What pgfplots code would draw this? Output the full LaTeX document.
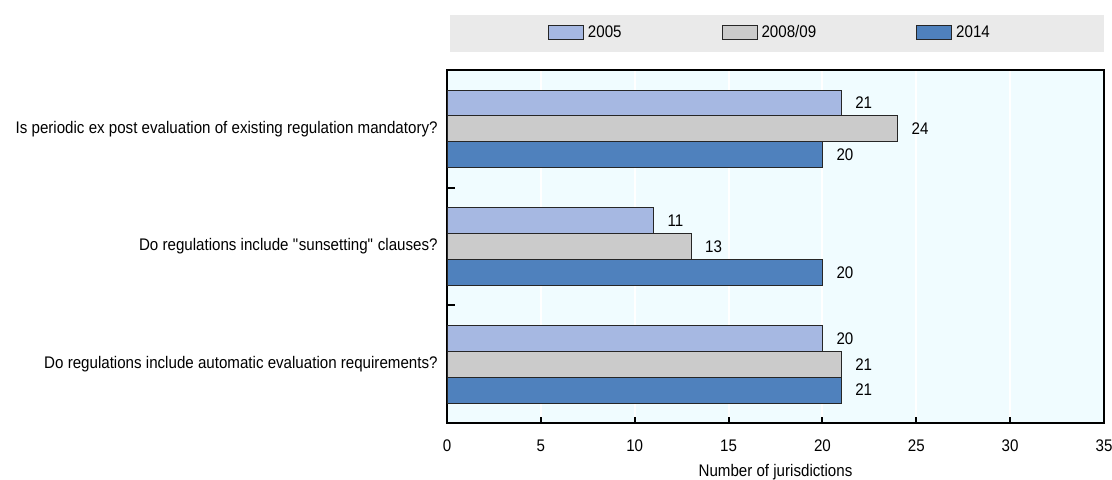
\documentclass[border=0pt]{standalone}
\usepackage{pgfplots}
\pgfplotsset{compat=1.18}
\usepackage{fontspec}
\setmainfont{Liberation Sans}[FakeStretch=0.9]

\definecolor{c2005}{RGB}{166,184,226}
\definecolor{c2008}{RGB}{203,203,203}
\definecolor{c2014}{RGB}{79,129,189}
\definecolor{plotbg}{RGB}{240,252,255}
\definecolor{legbg}{RGB}{234,234,234}

\newcommand{\chartfont}{\fontsize{8.4}{10}\selectfont}

\begin{document}
\begin{tikzpicture}
\chartfont
\path[use as bounding box] (0pt,0pt) rectangle (556pt,239.5pt);
% grey band behind the legend
\fill[legbg] (225pt,213.5pt) rectangle (552pt,232pt);
\begin{axis}[
  at={(223.5pt,28pt)}, anchor=south west,
  scale only axis,
  width=328.5pt, height=176.5pt,
  xbar, bar width=0.22,
  xmin=0, xmax=35, ymin=-0.5, ymax=2.5,
  xtick={0,5,...,35},
  ytick={0,1,2},
  yticklabels={Do regulations include automatic evaluation requirements?,
               Do regulations include \textquotedbl sunsetting\textquotedbl\ clauses?,
               Is periodic ex post evaluation of existing regulation mandatory?},
  minor ytick={0.5,1.5},
  xtick pos=bottom, ytick pos=left,
  tick align=inside,
  major tick length=3pt, minor tick length=4pt,
  major x tick style={black, line width=1pt},
  major y tick style={draw=none},
  minor y tick style={black, line width=1pt},
  axis line style={line width=0.9pt},
  axis background/.style={fill=plotbg},
  xmajorgrids, grid style={white, line width=1pt},
  /pgf/number format/assume math mode=true,
  tick label style={font=\chartfont},
  xticklabel style={yshift=-5.5pt},
  yticklabel style={xshift=-1.7pt},
  xlabel={Number of jurisdictions},
  xlabel style={at={(axis description cs:0.5,0)}, anchor=north, yshift=-17.5pt, font=\chartfont},
  nodes near coords,
  nodes near coords style={font=\chartfont, anchor=west, xshift=4pt},
  clip=false,
  legend columns=3,
  legend style={at={(0.493,1.105)}, anchor=center, draw=none, fill=none,
    font=\chartfont,
    /tikz/every even column/.append style={column sep=48pt}},
  legend image code/.code={\draw[#1] (0pt,-3.5pt) rectangle (17.5pt,3.5pt);},
]
\addplot[fill=c2005, draw=black!85, line width=0.5pt, bar shift=0.22] coordinates {(20,0) (11,1) (21,2)};
\addlegendentry{2005}
\addplot[fill=c2008, draw=black!85, line width=0.5pt, bar shift=0] coordinates {(21,0) (13,1) (24,2)};
\addlegendentry{2008/09}
\addplot[fill=c2014, draw=black!85, line width=0.5pt, bar shift=-0.22] coordinates {(21,0) (20,1) (20,2)};
\addlegendentry{2014}
\end{axis}
\end{tikzpicture}
\end{document}
